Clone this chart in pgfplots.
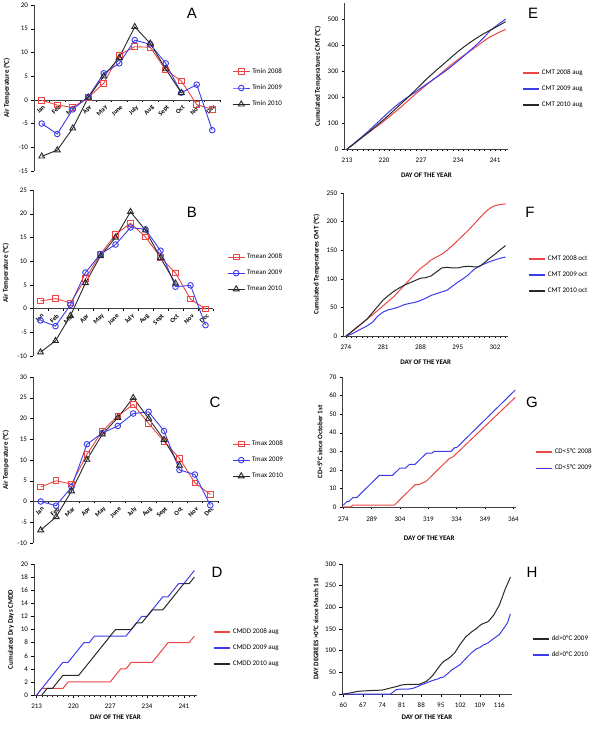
\documentclass[border=0pt]{standalone}
\usepackage{pgfplots}
\pgfplotsset{compat=1.18}
\usepackage{fontspec}
\setmainfont{Carlito}
\newfontfamily\lett{Liberation Sans}
\definecolor{cr}{RGB}{235,70,70}
\definecolor{cb}{RGB}{60,60,235}
\definecolor{ck}{RGB}{40,40,40}
\pgfplotsset{
  base/.style={
    scale only axis,
    anchor=south west,
    /pgf/number format/assume math mode=true,
    axis y line*=left,
    tick label style={font=\fontsize{7}{8}\selectfont},
    label style={font=\fontsize{7}{8}\selectfont\bfseries},
    legend style={draw=none, fill=none, font=\fontsize{7}{8}\selectfont, anchor=west, row sep=6pt, inner sep=0pt},
    legend cell align=left,
    tick align=outside,
    major tick length=2.5pt,
    minor tick length=2pt,
    every tick/.style={black, thin},
    axis line style={black!75, line width=0.7pt},
    clip=false,
  },
  month/.style={base,
    axis x line*=middle,
    xmin=-0.5, xmax=11.5,
    xtick={0,...,11},
    xticklabels={Jan,Feb,Mar,Apr,May,June,July,Aug,Sept,Oct,Nov,Dec},
    x tick label style={rotate=45, anchor=north east, font=\fontsize{6.5}{7}\selectfont\bfseries, inner sep=1pt, yshift=-1pt},
    major x tick style={draw=none},
    minor xtick={-0.5,0.5,...,11.5},
    ylabel={Air Temperature (°C)},
    ylabel style={yshift=2pt},
  },
  day/.style={base, axis x line*=bottom, xlabel={DAY OF THE YEAR},
    x tick label style={yshift=-3pt},
    legend image code/.code={\draw[#1, line width=1.6pt] (0pt,0pt) -- (16pt,0pt);}},
  xl/.style={xlabel style={at={(axis description cs:0.5,0)}, anchor=center, yshift=-#1pt}},
  rl/.style={draw=cr, color=cr, line width=1pt, mark=none},
  bl/.style={draw=cb, color=cb, line width=1pt, mark=none},
  kl/.style={draw=ck, color=ck, line width=1pt, mark=none},
  r/.style={color=cr, line width=0.9pt, mark=square, mark size=2.8pt, mark options={solid,fill=none}},
  b/.style={color=cb, line width=0.9pt, mark=o, mark size=2.8pt, mark options={solid,fill=none}},
  k/.style={color=ck, line width=0.9pt, mark=triangle, mark size=3.4pt, mark options={solid,fill=none}},
}
\begin{document}
\begin{tikzpicture}
\useasboundingbox (0,0) rectangle (600pt,729pt);
% ---------- A ----------
\begin{axis}[month, at={(34pt,558pt)}, width=186pt, height=166pt,
  ymin=-15, ymax=20, ytick={-15,-10,...,20},
  legend style={at={(1.065,0.5)}}]
\addplot[r] coordinates {(0,-0.1)(1,-1.1)(2,-1.6)(3,0.5)(4,3.5)(5,9.5)(6,11.2)(7,11.1)(8,6.3)(9,4.0)(10,-1.0)(11,-2.0)};
\addlegendentry{Tmin 2008}
\addplot[b] coordinates {(0,-5.0)(1,-7.2)(2,-2.0)(3,0.6)(4,5.6)(5,7.7)(6,12.6)(7,11.7)(8,7.7)(9,1.5)(10,3.2)(11,-6.4)};
\addlegendentry{Tmin 2009}
\addplot[k] coordinates {(0,-11.9)(1,-10.6)(2,-6.0)(3,0.5)(4,5.0)(5,8.9)(6,15.4)(7,11.9)(8,6.5)(9,1.5)};
\addlegendentry{Tmin 2010}
\end{axis}
% ---------- B ----------
\begin{axis}[month, at={(33pt,373pt)}, width=180pt, height=166pt,
  ymin=-10, ymax=25, ytick={-10,-5,...,25},
  legend style={at={(1.078,0.5)}}]
\addplot[r] coordinates {(0,1.6)(1,2.1)(2,1.2)(3,6.3)(4,11.5)(5,15.6)(6,18.0)(7,15.1)(8,10.8)(9,7.5)(10,2.0)(11,-0.1)};
\addlegendentry{Tmean 2008}
\addplot[b] coordinates {(0,-2.5)(1,-3.7)(2,0.8)(3,7.6)(4,11.5)(5,13.5)(6,17.1)(7,16.7)(8,12.2)(9,4.6)(10,4.9)(11,-3.5)};
\addlegendentry{Tmean 2009}
\addplot[k] coordinates {(0,-9.2)(1,-6.8)(2,-1.5)(3,5.4)(4,11.1)(5,15.0)(6,20.4)(7,16.5)(8,10.7)(9,5.3)};
\addlegendentry{Tmean 2010}
\end{axis}
% ---------- C ----------
\begin{axis}[month, at={(33pt,186pt)}, width=185pt, height=166pt,
  ymin=-10, ymax=30, ytick={-10,-5,...,30},
  legend style={at={(1.076,0.5)}}]
\addplot[r] coordinates {(0,3.5)(1,5.0)(2,4.2)(3,11.4)(4,17.0)(5,20.6)(6,23.4)(7,18.8)(8,14.5)(9,10.4)(10,4.5)(11,1.7)};
\addlegendentry{Tmax 2008}
\addplot[b] coordinates {(0,0)(1,-1.0)(2,3.5)(3,13.8)(4,16.5)(5,18.2)(6,21.2)(7,21.6)(8,17.0)(9,7.6)(10,6.5)(11,-0.9)};
\addlegendentry{Tmax 2009}
\addplot[k] coordinates {(0,-6.9)(1,-3.7)(2,2.5)(3,10.1)(4,16.2)(5,20.2)(6,25.0)(7,20.0)(8,14.9)(9,8.7)};
\addlegendentry{Tmax 2010}
\end{axis}
% ---------- D ----------
\begin{axis}[day, xl=22, at={(34pt,34pt)}, width=163pt, height=131pt,
  xmin=212.5, xmax=243.5, xtick={213,220,...,241}, minor xtick={213,...,243},
  ymin=0, ymax=20, ytick={0,2,...,20},
  ylabel={Cumulated Dry Days CMDD},
  legend style={at={(1.098,0.359)}}]
\addplot[rl] coordinates {(213,0)(214,1)(215,1)(216,1)(217,1)(218,1)(219,2)(220,2)(221,2)(222,2)(223,2)(224,2)(225,2)(226,2)(227,2)(228,3)(229,4)(230,4)(231,5)(232,5)(233,5)(234,5)(235,5)(236,6)(237,7)(238,8)(239,8)(240,8)(241,8)(242,8)(243,9)};
\addlegendentry{CMDD 2008 aug}
\addplot[bl] coordinates {(213,0)(214,1)(215,2)(216,3)(217,4)(218,5)(219,5)(220,6)(221,7)(222,8)(223,8)(224,9)(225,9)(226,9)(227,9)(228,9)(229,9)(230,9)(231,10)(232,11)(233,12)(234,12)(235,13)(236,14)(237,15)(238,15)(239,16)(240,17)(241,17)(242,18)(243,19)};
\addlegendentry{CMDD 2009 aug}
\addplot[kl] coordinates {(214,0)(215,1)(216,1)(217,2)(218,3)(219,3)(220,3)(221,3)(222,4)(223,5)(224,6)(225,7)(226,8)(227,9)(228,10)(229,10)(230,10)(231,10)(232,11)(233,11)(234,12)(235,13)(236,13)(237,13)(238,14)(239,15)(240,16)(241,17)(242,17)(243,18)};
\addlegendentry{CMDD 2010 aug}
\end{axis}
% ---------- E ----------
\begin{axis}[day, xl=26, at={(344.4pt,580pt)}, width=163.9pt, height=145.6pt,
  xmin=212.5, xmax=243.5, xtick={213,220,...,241}, minor xtick={213,...,243},
  ymin=0, ymax=560, ytick={0,100,...,500},
  ylabel={Cumulated Temperatures CMT (°C)},
  legend style={at={(1.084,0.412)}}]
\addplot[rl] coordinates {(213,0)(214,15)(215,31)(216,47)(217,62)(218,77)(219,92)(220,108)(221,124)(222,141)(223,158)(224,176)(225,194)(226,212)(227,229)(228,246)(229,262)(230,278)(231,295)(232,312)(233,329)(234,344)(235,359)(236,373)(237,387)(238,402)(239,417)(240,431)(241,441)(242,451)(243,460)};
\addlegendentry{CMT 2008 aug}
\addplot[bl] coordinates {(213,0)(214,16)(215,33)(216,50)(217,68)(218,87)(219,106)(220,125)(221,144)(222,162)(223,178)(224,193)(225,206)(226,220)(227,235)(228,249)(229,263)(230,277)(231,291)(232,306)(233,322)(234,339)(235,356)(236,374)(237,392)(238,411)(239,431)(240,454)(241,470)(242,485)(243,500)};
\addlegendentry{CMT 2009 aug}
\addplot[kl] coordinates {(213,0)(214,15)(215,31)(216,47)(217,63)(218,80)(219,97)(220,114)(221,132)(222,151)(223,170)(224,189)(225,208)(226,228)(227,248)(228,268)(229,287)(230,305)(231,322)(232,340)(233,358)(234,375)(235,391)(236,406)(237,420)(238,433)(239,445)(240,456)(241,467)(242,478)(243,490)};
\addlegendentry{CMT 2010 aug}
\end{axis}
% ---------- F ----------
\begin{axis}[day, xl=26, at={(343.3pt,393pt)}, width=165pt, height=143pt,
  xmin=273.5, xmax=304.5, xtick={274,281,...,302}, minor xtick={274,...,304},
  ymin=0, ymax=250, ytick={0,50,...,250},
  ylabel={Cumulated Temperatures CMT (°C)},
  legend style={at={(1.12,0.427)}}]
\addplot[rl] coordinates {(274,0)(275,7)(276,14)(277,22)(278,30)(279,37)(280,45)(281,53)(282,61)(283,69)(284,79)(285,89)(286,99)(287,109)(288,118)(289,125)(290,133)(291,138)(292,143)(293,150)(294,158)(295,167)(296,176)(297,185)(298,195)(299,205)(300,215)(301,223)(302,228)(303,230)(304,231)};
\addlegendentry{CMT 2008 oct}
\addplot[bl] coordinates {(274,0)(275,3)(276,8)(277,13)(278,18)(279,24)(280,35)(281,42)(282,46)(283,48)(284,51)(285,55)(286,57)(287,59)(288,62)(289,66)(290,71)(291,74)(292,77)(293,80)(294,87)(295,94)(296,100)(297,107)(298,116)(299,122)(300,126)(301,130)(302,133)(303,136)(304,138)};
\addlegendentry{CMT 2009 oct}
\addplot[kl] coordinates {(274,0)(275,7)(276,15)(277,22)(278,30)(279,41)(280,52)(281,63)(282,71)(283,78)(284,84)(285,89)(286,93)(287,97)(288,101)(289,102)(290,105)(291,112)(292,119)(293,120)(294,119)(295,119)(296,121)(297,122)(298,121)(299,121)(300,128)(301,136)(302,143)(303,151)(304,158)};
\addlegendentry{CMT 2010 oct}
\end{axis}
% ---------- G ----------
\begin{axis}[day, xl=31, at={(342.4pt,222pt)}, width=173.8pt, height=130pt,
  xmin=273.5, xmax=365.5, xtick={274,289,...,364},
  x tick label style={yshift=-1pt},
  ymin=0, ymax=70, ytick={0,10,...,70},
  ylabel={CD\textless5°C since October 1st},
  legend image code/.code={\draw[#1, line width=1.6pt] (0pt,0pt) -- (16pt,0pt);},
  legend style={at={(1.108,0.36)}}]
\addplot[rl] coordinates {(274,0)(278,0)(279,1)(301,1)(312,12)(314,12)(316,13)(318,14)(319,15)(320,16)(330,26)(332,27)(365,59)};
\addlegendentry{CD\textless5°C 2008}
\addplot[bl] coordinates {(274,1)(276,3)(277,3)(279,5)(281,5)(293,17)(300,17)(304,21)(307,21)(309,23)(312,23)(318,29)(321,29)(322,30)(331,30)(333,32)(334,32)(365,63)};
\addlegendentry{CD\textless5°C 2009}
\end{axis}
% ---------- H ----------
\begin{axis}[day, xl=23, at={(341.9pt,35pt)}, width=169.9pt, height=130pt,
  xmin=59.5, xmax=120.5, xtick={60,67,...,116},
  ymin=0, ymax=300, ytick={0,50,...,300},
  ylabel={DAY DEGREES >0°C since March 1st},
  legend style={at={(1.119,0.362)}}]
\addplot[kl] coordinates {(60,0)(63,3)(65,6)(67,7)(70,8)(74,9)(77,14)(79,17)(81,21)(83,22)(85,22)(87,22)(88,24)(90,30)(92,42)(95,68)(96,75)(98,83)(100,95)(102,115)(104,132)(106,143)(108,152)(109,158)(110,162)(112,167)(114,182)(116,205)(117,222)(118,240)(119,255)(120,270)};
\addlegendentry{dd>0°C 2009}
\addplot[bl] coordinates {(60,0)(77,0)(79,10)(80,11)(83,11)(85,13)(87,18)(88,21)(90,26)(92,31)(94,35)(95,38)(96,39)(98,50)(99,56)(100,60)(102,68)(104,82)(106,95)(108,105)(109,107)(110,112)(111,115)(112,118)(114,128)(116,137)(118,155)(119,165)(120,185)};
\addlegendentry{dd>0°C 2010}
\end{axis}
% ---------- panel letters ----------
\node[font=\lett\fontsize{15}{15}\selectfont] at (192pt,716pt) {A};
\node[font=\lett\fontsize{15}{15}\selectfont] at (192pt,517pt) {B};
\node[font=\lett\fontsize{15}{15}\selectfont] at (215pt,327pt) {C};
\node[font=\lett\fontsize{15}{15}\selectfont] at (217pt,157pt) {D};
\node[font=\lett\fontsize{15}{15}\selectfont] at (533pt,716pt) {E};
\node[font=\lett\fontsize{15}{15}\selectfont] at (530pt,517pt) {F};
\node[font=\lett\fontsize{15}{15}\selectfont] at (532pt,327pt) {G};
\node[font=\lett\fontsize{15}{15}\selectfont] at (532pt,157pt) {H};
\end{tikzpicture}
\end{document}
